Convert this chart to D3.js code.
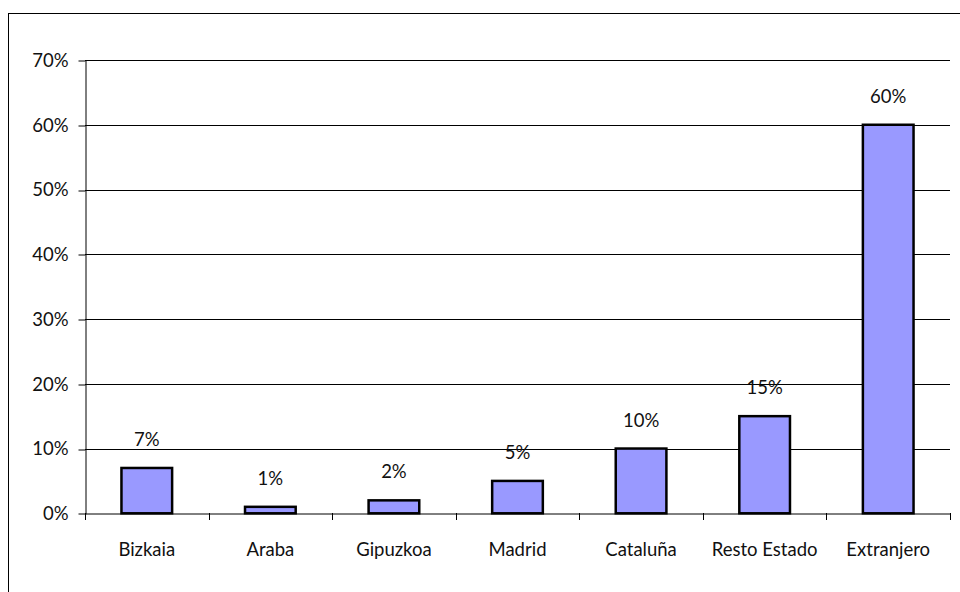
<!DOCTYPE html>
<html>
<head>
<meta charset="utf-8">
<script src="https://cdn.jsdelivr.net/npm/d3@7"></script>
<style>
  body { margin: 0; background: #fff; }
  text { font-family: Lato, "Open Sans", sans-serif; fill: #111; }
</style>
</head>
<body>
<div id="chart"></div>
<script>
const FRAME_WIDTH = 960;
const FRAME_HEIGHT = 592;
const MARGINS = {left: 85, right: 10, top: 60, bottom: 78.7};
const FONT = "18.5px";

// data
const categories = ["Bizkaia", "Araba", "Gipuzkoa", "Madrid", "Cataluña", "Resto Estado", "Extranjero"];
const values = [7, 1, 2, 5, 10, 15, 60];
const valueLabels = ["7%", "1%", "2%", "5%", "10%", "15%", "60%"];
const yTicks = [0, 10, 20, 30, 40, 50, 60, 70];

const svg = d3.select("#chart")
  .append("svg")
    .attr("width", FRAME_WIDTH)
    .attr("height", FRAME_HEIGHT);

// outer chart border (runs off the bottom/right of the picture)
svg.append("rect")
  .attr("x", 8.5).attr("y", 13.5)
  .attr("width", 1000).attr("height", 1000)
  .attr("fill", "none")
  .attr("stroke", "#000")
  .attr("stroke-width", 1);

const x = d3.scaleBand()
  .domain(categories)
  .range([MARGINS.left, FRAME_WIDTH - MARGINS.right])
  .paddingInner(0)
  .paddingOuter(0);

const y = d3.scaleLinear()
  .domain([0, 70])
  .range([FRAME_HEIGHT - MARGINS.bottom, MARGINS.top]);

// gridlines
svg.append("g")
  .selectAll("line")
  .data(yTicks.filter(d => d > 0))
  .enter()
  .append("line")
    .attr("x1", MARGINS.left)
    .attr("x2", FRAME_WIDTH - MARGINS.right)
    .attr("y1", d => Math.round(y(d)) + 0.5)
    .attr("y2", d => Math.round(y(d)) + 0.5)
    .attr("stroke", "#000")
    .attr("stroke-width", 1);

// y axis
const yAxis = svg.append("g")
  .attr("transform", "translate(" + (MARGINS.left + 0.5) + ",0.5)")
  .call(d3.axisLeft(y).tickValues(yTicks).tickFormat(d => d + "%").tickSize(7).tickSizeOuter(0).tickPadding(10));
yAxis.selectAll("text").style("font-size", FONT).attr("fill", "#111");
yAxis.selectAll("line, path").attr("stroke", "#000");
yAxis.selectAll(".tick line").attr("transform", d => "translate(0," + (Math.round(y(d)) - y(d)) + ")");

// x axis
const xAxis = svg.append("g")
  .attr("transform", "translate(0," + (Math.round(y(0)) + 0.5) + ")")
  .call(d3.axisBottom(x).tickSize(0).tickPadding(29));
xAxis.select(".domain").attr("stroke", "#000");
xAxis.selectAll("text").style("font-size", FONT).attr("fill", "#111");

// category boundary ticks
svg.append("g")
  .selectAll("line")
  .data(categories.concat(["end"]))
  .enter()
  .append("line")
    .attr("x1", (d, i) => Math.round(MARGINS.left + i * x.step()) + 0.5)
    .attr("x2", (d, i) => Math.round(MARGINS.left + i * x.step()) + 0.5)
    .attr("y1", Math.round(y(0)))
    .attr("y2", Math.round(y(0)) + 7)
    .attr("stroke", "#000");

// bars
const barW = x.bandwidth() * 0.41;
svg.append("g")
  .selectAll("rect")
  .data(values)
  .enter()
  .append("rect")
    .attr("x", (d, i) => x(categories[i]) + (x.bandwidth() - barW) / 2)
    .attr("y", d => y(d))
    .attr("width", barW)
    .attr("height", d => y(0) - y(d))
    .attr("fill", "#9999FF")
    .attr("stroke", "#000")
    .attr("stroke-width", 2.5);

// value labels
svg.append("g")
  .selectAll("text")
  .data(values)
  .enter()
  .append("text")
    .attr("x", (d, i) => x(categories[i]) + x.bandwidth() / 2)
    .attr("y", d => y(d) - 22)
    .attr("text-anchor", "middle")
    .style("font-size", FONT)
    .text((d, i) => valueLabels[i]);
</script>
</body>
</html>
